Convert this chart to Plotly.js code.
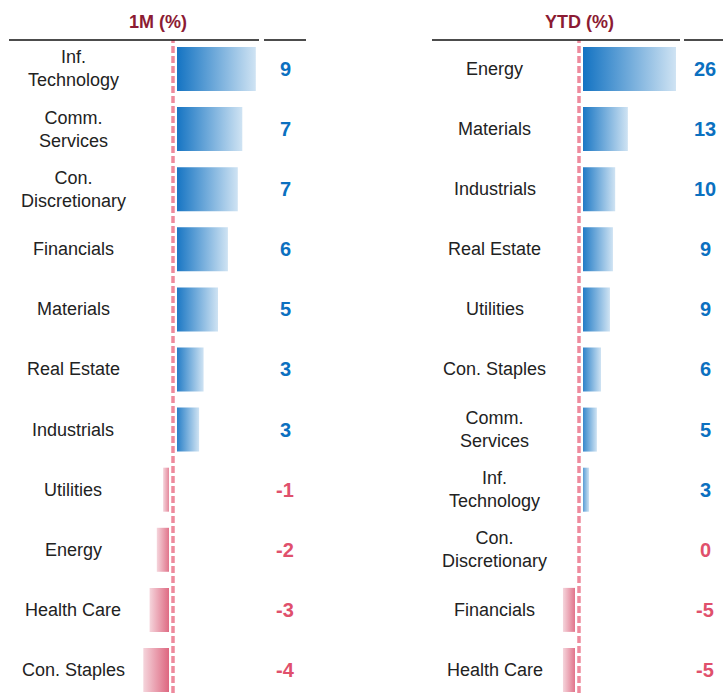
<!DOCTYPE html>
<html>
<head>
<meta charset="utf-8">
<script src="https://cdn.plot.ly/plotly-3.0.1.min.js"></script>
<style>html,body{margin:0;padding:0;background:#fff;}#chart{width:723px;height:693px;}</style>
</head>
<body>
<div id="chart"></div>
<script>
// ---- data ----
const cats1M = ['Inf.<br>Technology','Comm.<br>Services','Con.<br>Discretionary','Financials','Materials','Real Estate','Industrials','Utilities','Energy','Health Care','Con. Staples'];
const vals1M = [9.2, 7.7, 7.2, 6.1, 5.0, 3.4, 2.9, -1.1, -1.8, -2.6, -3.3];
const labels1M = ['9','7','7','6','5','3','3','-1','-2','-3','-4'];

const catsYTD = ['Energy','Materials','Industrials','Real Estate','Utilities','Con. Staples','Comm.<br>Services','Inf.<br>Technology','Con.<br>Discretionary','Financials','Health Care'];
const valsYTD = [26, 13.1, 9.7, 9.1, 8.3, 5.9, 4.8, 2.7, 0, -4.3, -4.3];
const labelsYTD = ['26','13','10','9','9','6','5','3','0','-5','-5'];

const titles = ['1M (%)', 'YTD (%)'];

// ---- style ----
const W = 723, H = 693;
const BLUE_DARK = '#0B6EC0', BLUE_LIGHT = '#CFE3F3';
const PINK_DARK = '#DA5571', PINK_LIGHT = '#F5D5DC';
const TXT_BLUE = '#0B70C0', TXT_RED = '#E0506C';
const HEAD = '#8C1B33';
const HALF = 0.366;
const FONT = 'Liberation Sans, Arial, sans-serif';

const traces = [];
const annotations = [];

function addPanel(cats, vals, labels, xa, catX, valX) {
  vals.forEach((v, i) => {
    if (v === 0) return;
    const y = -i;
    const pos = v > 0;
    traces.push({
      type: 'scatter', mode: 'none', xaxis: xa, yaxis: 'y',
      x: [0, v, v, 0, 0],
      y: [y + HALF, y + HALF, y - HALF, y - HALF, y + HALF],
      fill: 'toself',
      fillgradient: {
        type: 'horizontal',
        colorscale: pos ? [[0, BLUE_DARK], [1, BLUE_LIGHT]] : [[0, PINK_LIGHT], [1, PINK_DARK]]
      },
      hoverinfo: 'skip', showlegend: false
    });
  });
  cats.forEach((c, i) => {
    annotations.push({
      xref: 'paper', yref: 'y', x: catX / W, y: -i, text: c, showarrow: false,
      xanchor: 'center', yanchor: 'middle', align: 'center',
      font: {family: FONT, size: 18, color: '#222222'}
    });
  });
  labels.forEach((t, i) => {
    annotations.push({
      xref: 'paper', yref: 'y', x: valX / W, y: -i, text: '<b>' + t + '</b>', showarrow: false,
      xanchor: 'center', yanchor: 'middle',
      font: {family: FONT, size: 20, color: vals[i] > 0 ? TXT_BLUE : TXT_RED}
    });
  });
}

addPanel(cats1M, vals1M, labels1M, 'x', 73, 285);
addPanel(catsYTD, valsYTD, labelsYTD, 'x2', 494.5, 705);

annotations.push({xref:'paper', yref:'paper', x:158/W, y:1-22/H, text:'<b>'+titles[0]+'</b>', showarrow:false,
  xanchor:'center', yanchor:'middle', font:{family:FONT, size:18, color:HEAD}});
annotations.push({xref:'paper', yref:'paper', x:579/W, y:1-22/H, text:'<b>'+titles[1]+'</b>', showarrow:false,
  xanchor:'center', yanchor:'middle', font:{family:FONT, size:18, color:HEAD}});

const lineY = 1 - 40/H;
const shapes = [];
[['x'], ['x2']].forEach(([xr]) => {
  shapes.push({type:'line', xref:xr, yref:'paper', x0:0, x1:0, y0:0, y1:lineY, layer:'above',
    line:{color:'#ffffff', width:8}});
  shapes.push({type:'line', xref:xr, yref:'paper', x0:0, x1:0, y0:0, y1:lineY, layer:'above',
    line:{color:'#EE8A9D', width:3.5, dash:'7px,3px'}});
});
[[9,259],[264,306],[432,680],[684,723]].forEach(([a,b]) => {
  shapes.push({type:'line', xref:'paper', yref:'paper', x0:a/W, x1:b/W, y0:lineY, y1:lineY, layer:'above',
    line:{color:'#111111', width:1.5}});
});

const layout = {
  width: W, height: H,
  margin: {l:0, r:0, t:0, b:0},
  paper_bgcolor: '#ffffff', plot_bgcolor: '#ffffff',
  showlegend: false,
  xaxis: {domain:[0, 310/W], range:[-173/9, 137/9], visible:false, fixedrange:true},
  xaxis2: {domain:[420/W, 1], range:[(420-579)/3.73, (723-579)/3.73], visible:false, anchor:'y', fixedrange:true},
  yaxis: {range:[-10.383, 1.148], visible:false, fixedrange:true},
  annotations: annotations,
  shapes: shapes
};

Plotly.newPlot('chart', traces, layout, {staticPlot:true, displayModeBar:false});
</script>
</body>
</html>
